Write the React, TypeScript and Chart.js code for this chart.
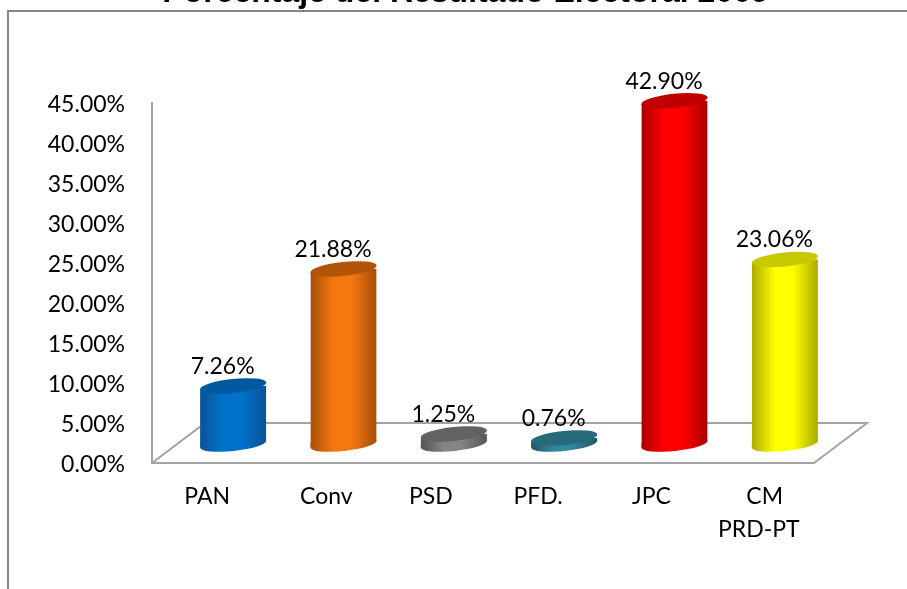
import React, { useEffect, useRef } from "react";
import { Chart, registerables } from "chart.js";

Chart.register(...registerables);

const categories: (string | string[])[] = ["PAN", "   Conv", " PSD", "PFD.", " JPC", ["  CM", "PRD-PT"]];
const values = [7.26, 21.88, 1.25, 0.76, 42.9, 23.06];
const centerColors = ["#0072CC", "#F67610", "#848484", "#31859C", "#FF0000", "#FFFF00"];
const edgeColors = ["#0A5496", "#A5500A", "#565656", "#205868", "#A80000", "#ABAB00"];
const capColors = ["#00589E", "#B25509", "#626262", "#266A7C", "#C00000", "#C8C800"];
const titleText = "Porcentaje del Resultado Electoral 2009";

const OFF = 30; // canvas starts above the page so the title is cut, as in the reference
const DEPTH_X = 26;
const DEPTH_Y = 19;
const TILT = (-6 * Math.PI) / 180;
const CAP_RY = 7;
const FONT = "Lato";
const GREY = "#A3A3A3";

function halfWidth(chart: any) {
  return ((chart.scales.x2.right - chart.scales.x2.left) / categories.length) * 0.3;
}

function bodyGradient(ctx: CanvasRenderingContext2D, cx: number, hw: number, i: number) {
  const g = ctx.createLinearGradient(cx - hw, 0, cx + hw, 0);
  g.addColorStop(0, edgeColors[i]);
  g.addColorStop(0.35, centerColors[i]);
  g.addColorStop(0.62, centerColors[i]);
  g.addColorStop(1, edgeColors[i]);
  return g;
}

// ellipse whose horizontal extent is exactly hw, and the height of its side points
function capGeometry(hw: number) {
  const s = Math.sin(TILT);
  const c = Math.cos(TILT);
  const a = Math.sqrt((hw * hw - CAP_RY * CAP_RY * s * s) / (c * c));
  const d = ((a * a - CAP_RY * CAP_RY) * -s * c) / hw;
  return { a, d };
}

function cylinderPlugin() {
  return {
    id: "cylinders",
    afterLayout(chart: any) {
      const { x2, y2 } = chart.scales;
      x2.left += DEPTH_X;
      x2.right += DEPTH_X;
      x2.configure();
      y2.top -= DEPTH_Y;
      y2.bottom -= DEPTH_Y;
      y2.configure();
      chart.titleBlock.right = chart.width;
    },
    beforeDraw(chart: any) {
      const { ctx, scales } = chart;
      const { x, y } = scales;
      ctx.save();
      ctx.strokeStyle = "#868686";
      ctx.lineWidth = 2;
      ctx.beginPath();
      ctx.moveTo(8, chart.height);
      ctx.lineTo(8, 11 + OFF);
      ctx.lineTo(chart.width, 11 + OFF);
      ctx.stroke();
      const y0 = y.getPixelForValue(0);
      const y5 = y.getPixelForValue(5);
      ctx.strokeStyle = GREY;
      ctx.beginPath();
      ctx.moveTo(x.left, y0);
      ctx.lineTo(x.left + 53, y5);
      ctx.lineTo(x.right + 53, y5);
      ctx.lineTo(x.right, y0);
      ctx.stroke();
      ctx.restore();
    },
    beforeDatasetDraw(chart: any) {
      const { ctx } = chart;
      const hw = halfWidth(chart);
      const { d } = capGeometry(hw);
      ctx.save();
      ctx.beginPath();
      chart.getDatasetMeta(0).data.forEach((el: any) => {
        ctx.moveTo(el.x - hw, el.y + d);
        ctx.lineTo(el.x + hw, el.y - d);
        ctx.lineTo(el.x + hw, el.base - d);
        ctx.lineTo(el.x - hw, el.base + d);
        ctx.closePath();
      });
      ctx.clip();
    },
    afterDatasetDraw(chart: any) {
      const { ctx } = chart;
      ctx.restore();
      const hw = halfWidth(chart);
      const { a, d } = capGeometry(hw);
      chart.getDatasetMeta(0).data.forEach((el: any, i: number) => {
        ctx.fillStyle = bodyGradient(ctx, el.x, hw, i);
        // lower end of the body: the tilted edge and the round bottom
        ctx.beginPath();
        ctx.moveTo(el.x - hw, el.base - 1);
        ctx.lineTo(el.x + hw, el.base - d);
        ctx.lineTo(el.x - hw, el.base + d);
        ctx.closePath();
        ctx.fill();
        ctx.beginPath();
        ctx.ellipse(el.x, el.base, a, CAP_RY, TILT, 0, Math.PI * 2);
        ctx.fill();
        ctx.fillStyle = capColors[i];
        ctx.beginPath();
        ctx.ellipse(el.x, el.y, a, CAP_RY, TILT, 0, Math.PI * 2);
        ctx.fill();
      });
    },
    afterDraw(chart: any) {
      const { ctx } = chart;
      ctx.save();
      ctx.font = `23px ${FONT}`;
      ctx.fillStyle = "#000000";
      ctx.textAlign = "center";
      ctx.textBaseline = "middle";
      chart.getDatasetMeta(0).data.forEach((el: any, i: number) => {
        ctx.fillText(values[i].toFixed(2) + "%", el.x - 10.5, el.y - 19.5);
      });
      ctx.restore();
    },
  };
}

export default function App() {
  const ref = useRef<HTMLCanvasElement | null>(null);
  useEffect(() => {
    const canvas = ref.current;
    if (!canvas) return;
    const chart = new Chart(canvas, {
      type: "bar",
      data: {
        labels: categories as any,
        datasets: [
          {
            data: values,
            xAxisID: "x2",
            yAxisID: "y2",
            clip: false as any,
            barPercentage: 0.6,
            categoryPercentage: 1,
            borderWidth: 0,
            backgroundColor: (c: any) => {
              const sc = c.chart.scales.x2;
              if (!sc || c.dataIndex === undefined) return "#888";
              const cx = sc.getPixelForValue(c.dataIndex);
              const hw = halfWidth(c.chart);
              if (!Number.isFinite(cx) || !Number.isFinite(hw)) return centerColors[c.dataIndex];
              return bodyGradient(c.chart.ctx, cx, hw, c.dataIndex);
            },
          },
        ],
      },
      options: {
        animation: false,
        responsive: false,
        layout: { padding: { left: 24, right: 93, top: 0, bottom: 0 } },
        plugins: {
          legend: { display: false },
          tooltip: { enabled: false },
          title: {
            display: true,
            text: titleText,
            color: "#000000",
            font: { family: "Liberation Sans", size: 32, weight: "bold", lineHeight: 1.2 },
            padding: { top: 4, bottom: 90.6 },
          },
        },
        scales: {
          x: {
            type: "category",
            position: "bottom",
            afterFit: (s: any) => { s.height = 126; },
            grid: { display: false, drawTicks: false },
            border: { display: true, color: GREY, width: 2 },
            ticks: {
              color: "#000000",
              font: { family: FONT, size: 23, lineHeight: 1.44 },
              padding: 17,
              maxRotation: 0,
              autoSkip: false,
            },
          },
          y: {
            type: "linear",
            position: "left",
            min: 0,
            max: 45,
            afterFit: (s: any) => { s.width = 128; },
            grid: { display: false, drawTicks: false },
            border: { display: true, color: GREY, width: 2 },
            ticks: {
              stepSize: 5,
              color: "#000000",
              font: { family: FONT, size: 23 },
              padding: 27,
              labelOffset: 2,
              callback: (v: any) => Number(v).toFixed(2) + "%",
            },
          },
          x2: { type: "category", display: false, position: "bottom" },
          y2: { type: "linear", display: false, position: "left", min: 0, max: 45 },
        },
      },
      plugins: [cylinderPlugin()],
    } as any);
    return () => chart.destroy();
  }, []);
  return (
    <canvas
      ref={ref}
      width={907}
      height={589 + OFF}
      style={{ position: "fixed", left: 0, top: -OFF, width: 907, height: 589 + OFF, display: "block" }}
    />
  );
}
